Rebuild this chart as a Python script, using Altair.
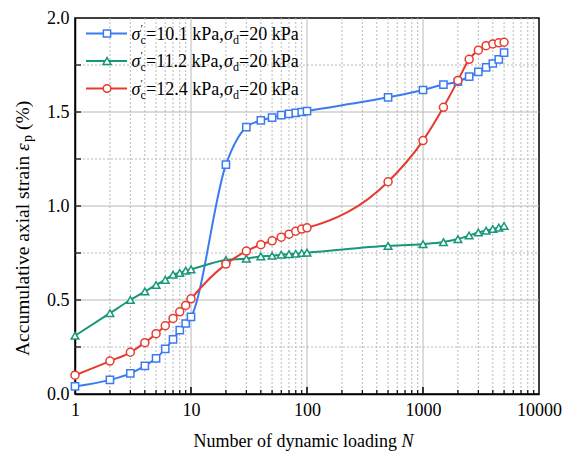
import altair as alt
import pandas as pd

# ---------------- data ----------------
N = [1, 2, 3, 4, 5, 6, 7, 8, 9, 10, 20, 30, 40, 50, 60, 70, 80, 90, 100,
     500, 1000, 1500, 2000, 2500, 3000, 3500, 4000, 4500, 5000]
strain_101 = [0.04, 0.075, 0.11, 0.15, 0.19, 0.24, 0.29, 0.34, 0.375, 0.41,
              1.22, 1.42, 1.455, 1.47, 1.483, 1.49, 1.495, 1.50, 1.505,
              1.578, 1.617, 1.646, 1.661, 1.688, 1.713, 1.737, 1.758, 1.78, 1.816]
strain_112 = [0.31, 0.43, 0.50, 0.545, 0.58, 0.607, 0.635, 0.644, 0.656, 0.663,
              0.713, 0.72, 0.732, 0.735, 0.741, 0.744, 0.746, 0.75, 0.752,
              0.788, 0.797, 0.808, 0.824, 0.843, 0.859, 0.869, 0.878, 0.885, 0.894]
strain_124 = [0.10, 0.175, 0.222, 0.273, 0.321, 0.363, 0.402, 0.437, 0.471, 0.506,
              0.691, 0.760, 0.794, 0.815, 0.834, 0.85, 0.866, 0.877, 0.884,
              1.129, 1.348, 1.525, 1.668, 1.78, 1.829, 1.853, 1.862, 1.868, 1.871]
sigma_c = ["10.1", "11.2", "12.4"]
sigma_d = "20"

x_tick_values = [1, 10, 100, 1000, 10000]
x_major_grid = [10, 100, 1000]
x_minor_grid = [2, 3, 4, 5, 6, 7, 8, 9,
                20, 30, 40, 50, 60, 70, 80, 90,
                200, 300, 400, 500, 600, 700, 800, 900,
                2000, 3000, 4000, 5000, 6000, 7000, 8000, 9000]
y_tick_values = [0.0, 0.5, 1.0, 1.5, 2.0]
y_major_grid = [0.5, 1.0, 1.5]
y_minor_grid = [0.25, 0.75, 1.25, 1.75]
y_all_ticks = [0.25, 0.5, 0.75, 1.0, 1.25, 1.5, 1.75]

series = ["s101", "s112", "s124"]
colors = ["#3b7bf0", "#17977a", "#e63a2e"]
shapes = ["square", "triangle-up", "circle"]
sizes = [52, 64, 58]

# ---------------- build tables ----------------
rows = []
for s, vals in zip(series, [strain_101, strain_112, strain_124]):
    for n, v in zip(N, vals):
        rows.append({"series": s, "N": n, "strain": v})
df = pd.DataFrame(rows)
one = pd.DataFrame({"k": [0]})

FONT = "Liberation Serif"
W, H = 464, 376

xscale = alt.Scale(type="log", domain=[1, 10000])
yscale = alt.Scale(domain=[0, 2])
cscale = alt.Scale(domain=series, range=colors)

grid_col = "#b8b8b8"

xaxis = alt.Axis(values=x_tick_values, format="d", grid=False, ticks=False,
                 domainColor="black", domainWidth=1.5, labelFont=FONT,
                 labelFontSize=18, labelColor="black", labelPadding=7,
                 labelFlush=False, title=None)
yaxis = alt.Axis(values=y_tick_values, format=".1f", grid=False, ticks=False,
                 domainColor="black", domainWidth=1.5, labelFont=FONT,
                 labelFontSize=18, labelColor="black", labelPadding=6, title=None)


def X(field):
    return alt.X(field, scale=xscale, axis=xaxis)


def Y(field):
    return alt.Y(field, scale=yscale, axis=yaxis)


gx_major = alt.Chart(pd.DataFrame({"gx": x_major_grid})).mark_rule(
    color=grid_col, strokeWidth=1).encode(x=X("gx:Q"), y=alt.value(0), y2=alt.value(H))
gx_minor = alt.Chart(pd.DataFrame({"gxm": x_minor_grid})).mark_rule(
    color=grid_col, strokeWidth=1, strokeDash=[2, 2]).encode(
    x=X("gxm:Q"), y=alt.value(0), y2=alt.value(H))
gy_major = alt.Chart(pd.DataFrame({"gy": y_major_grid})).mark_rule(
    color=grid_col, strokeWidth=1).encode(y=Y("gy:Q"), x=alt.value(0), x2=alt.value(W))
gy_minor = alt.Chart(pd.DataFrame({"gym": y_minor_grid})).mark_rule(
    color=grid_col, strokeWidth=1, strokeDash=[2, 2]).encode(
    y=Y("gym:Q"), x=alt.value(0), x2=alt.value(W))

tx_major = alt.Chart(pd.DataFrame({"tx": x_major_grid})).mark_rule(
    color="black", strokeWidth=1.5).encode(x=X("tx:Q"), y=alt.value(H), y2=alt.value(H - 7))
tx_minor = alt.Chart(pd.DataFrame({"txm": x_minor_grid})).mark_rule(
    color="black", strokeWidth=1.2).encode(x=X("txm:Q"), y=alt.value(H), y2=alt.value(H - 4))
ty = alt.Chart(pd.DataFrame({"ty": y_all_ticks})).mark_rule(
    color="black", strokeWidth=1.2).encode(y=Y("ty:Q"), x=alt.value(0), x2=alt.value(6))

lines = alt.Chart(df).mark_line(interpolate="monotone", strokeWidth=2).encode(
    x=X("N:Q"), y=Y("strain:Q"),
    color=alt.Color("series:N", scale=cscale, legend=None),
)
points = alt.Chart(df).mark_point(filled=True, fill="white", opacity=1,
                                  strokeWidth=1.5).encode(
    x=X("N:Q"), y=Y("strain:Q"),
    stroke=alt.Stroke("series:N", scale=cscale, legend=None),
    shape=alt.Shape("series:N", scale=alt.Scale(domain=series, range=shapes), legend=None),
    size=alt.Size("series:N", scale=alt.Scale(domain=series, range=sizes), legend=None),
)


def txt(s, x, y, size=18, style="normal", align="left", baseline="alphabetic", angle=0):
    return alt.Chart(one).mark_text(
        text=s, font=FONT, fontSize=size, fontStyle=style, align=align,
        baseline=baseline, angle=angle, color="black").encode(
        x=alt.value(x), y=alt.value(y))


layers = [gx_minor, gy_minor, gx_major, gy_major, tx_minor, tx_major, ty,
          lines, points]

# legend (manual, so subscripts can be drawn)
row_y = [15.5, 43, 70.5]
for i in range(3):
    ry = row_y[i]
    layers.append(alt.Chart(one).mark_rule(color=colors[i], strokeWidth=2).encode(
        x=alt.value(11), x2=alt.value(52), y=alt.value(ry)))
    layers.append(alt.Chart(one).mark_point(
        shape=shapes[i], size=sizes[i], filled=True, fill="white", stroke=colors[i],
        strokeWidth=1.5, opacity=1).encode(x=alt.value(32), y=alt.value(ry)))
    base = ry + 6
    layers.append(txt("σ", 56.5, base, style="italic"))
    layers.append(txt("′", 65.5, base - 8, size=11))
    layers.append(txt("c", 65.5, base + 4, size=12))
    layers.append(txt("=" + sigma_c[i] + " kPa,", 71, base))
    layers.append(txt("σ", 149, base, style="italic"))
    layers.append(txt("d", 158, base + 4, size=12))
    layers.append(txt("=" + sigma_d + " kPa", 164, base))

# x-axis title
layers.append(txt("Number of dynamic loading", 322, H + 53, align="right"))
layers.append(txt("N", 326.5, H + 53, style="italic"))

# y-axis title (rotated)
yx = -52
ys = 338
ysz = 19.5
layers.append(txt("Accumulative axial strain", yx, ys, size=ysz, align="left",
                  baseline="middle", angle=270))
layers.append(txt("ε", yx, ys - 205, size=ysz, style="italic", align="left",
                  baseline="middle", angle=270))
layers.append(txt("p", yx + 5, ys - 214, size=14, align="left", baseline="middle",
                  angle=270))
layers.append(txt("(%)", yx, ys - 226, size=ysz, align="left", baseline="middle",
                  angle=270))

chart = alt.layer(*layers).properties(
    width=W, height=H,
    autosize=alt.AutoSizeParams(type="none"),
    padding={"left": 67, "top": 10, "right": 24, "bottom": 62},
).configure_view(stroke="black", strokeWidth=1.5)

chart.save("out.html", embed_options={"renderer": "svg", "actions": False})
